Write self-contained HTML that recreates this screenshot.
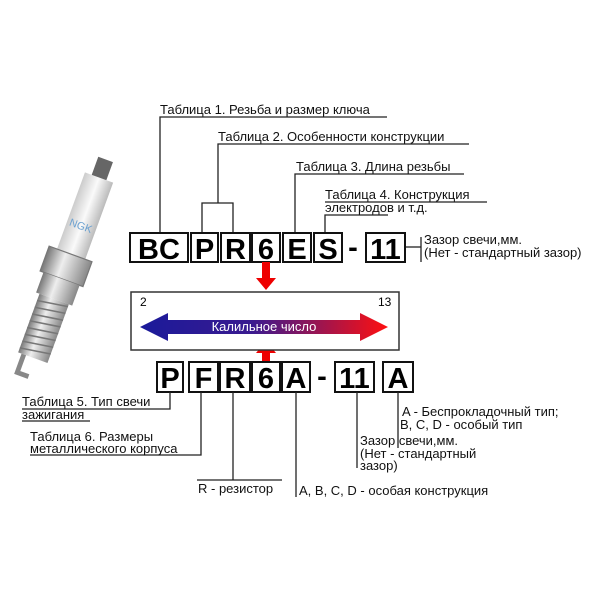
<!DOCTYPE html>
<html><head><meta charset="utf-8"><style>
body{margin:0;background:#fff}
svg text{font-family:"Liberation Sans",sans-serif}
</style></head><body>
<svg width="604" height="604" xmlns="http://www.w3.org/2000/svg">
<defs>
<linearGradient id="g" x1="0" x2="1"><stop offset="0" stop-color="#1a1a9a"/><stop offset="0.45" stop-color="#3a1a90"/><stop offset="1" stop-color="#ff1010"/></linearGradient>
<linearGradient id="metal" x1="0" x2="1"><stop offset="0" stop-color="#777"/><stop offset="0.4" stop-color="#eee"/><stop offset="1" stop-color="#888"/></linearGradient>
<linearGradient id="cer" x1="0" x2="1"><stop offset="0" stop-color="#ccc"/><stop offset="0.5" stop-color="#fafafa"/><stop offset="1" stop-color="#bbb"/></linearGradient>
</defs>
<!-- spark plug -->
<g transform="translate(64,272) rotate(20) scale(1.2)">
<rect x="-6" y="-100" width="13" height="18" fill="#666"/>
<rect x="-12" y="-84" width="25" height="70" fill="url(#cer)"/>
<text x="0" y="-38" font-size="9" fill="#6aa0d0" text-anchor="middle">NGK</text>
<rect x="-19" y="-16" width="38" height="22" fill="url(#metal)" stroke="#777"/>
<rect x="-16" y="6" width="32" height="18" fill="url(#metal)"/>
<rect x="-13" y="24" width="26" height="52" fill="url(#metal)"/>
<g stroke="#777" stroke-width="1.3">
<line x1="-13" y1="30" x2="13" y2="26"/><line x1="-13" y1="36" x2="13" y2="32"/><line x1="-13" y1="42" x2="13" y2="38"/><line x1="-13" y1="48" x2="13" y2="44"/><line x1="-13" y1="54" x2="13" y2="50"/><line x1="-13" y1="60" x2="13" y2="56"/><line x1="-13" y1="66" x2="13" y2="62"/><line x1="-13" y1="72" x2="13" y2="68"/></g>
<path d="M-8 76 L-8 92 L2 92" stroke="#888" stroke-width="4" fill="none"/>
</g>
<g font-size="13" fill="#111">
<text x="160" y="114">Таблица 1. Резьба и размер ключа</text>
<text x="218" y="141">Таблица 2. Особенности конструкции</text>
<text x="296" y="171">Таблица 3. Длина резьбы</text>
<text x="325" y="199">Таблица 4. Конструкция</text>
<text x="325" y="212">электродов и т.д.</text>
<text x="424" y="244">Зазор свечи,мм.</text>
<text x="424" y="257">(Нет - стандартный зазор)</text>
</g>
<g stroke="#222" stroke-width="1.3" fill="none">
<path d="M160 233 V117 H387"/>
<path d="M218 203 V144 H469"/>
<path d="M202 233 V203 H233 V233"/>
<path d="M295 233 V174 H464"/>
<path d="M325 233 V215 H388"/>
<line x1="325" y1="202" x2="487" y2="202"/>
<path d="M405 247 H421"/><line x1="421" y1="237" x2="421" y2="262"/>
</g>
<!-- top boxes -->
<g stroke="#111" stroke-width="2" fill="#fff">
<rect x="130" y="233" width="58" height="29"/><rect x="191" y="233" width="27" height="29"/><rect x="221" y="233" width="29" height="29"/><rect x="252" y="233" width="28" height="29"/><rect x="283" y="233" width="28" height="29"/><rect x="314" y="233" width="28" height="29"/><rect x="366" y="233" width="39" height="29"/>
</g>
<g font-size="29" font-weight="bold" text-anchor="middle" fill="#000">
<text x="159" y="259">BC</text><text x="204.5" y="259">P</text><text x="235.5" y="259">R</text><text x="266" y="259">6</text><text x="297" y="259">E</text><text x="328" y="259">S</text><text x="353" y="257">-</text><text x="385.5" y="259">11</text>
</g>
<!-- red arrows -->
<rect x="262" y="262" width="8" height="18" fill="#e00"/><polygon points="256,278 276,278 266,290" fill="#e00"/>
<rect x="262" y="350" width="8" height="12" fill="#e00"/><polygon points="256,353 276,353 266,341" fill="#e00"/>
<!-- heat box -->
<rect x="131" y="292" width="268" height="58" fill="#fff" stroke="#333" stroke-width="1.5"/>
<text x="140" y="306" font-size="12">2</text><text x="378" y="306" font-size="12">13</text>
<polygon points="140,327 168,313 168,320 360,320 360,313 388,327 360,341 360,334 168,334 168,341" fill="url(#g)"/>
<text x="264" y="331" font-size="13" fill="#fff" text-anchor="middle">Калильное число</text>
<!-- bottom boxes -->
<g stroke="#111" stroke-width="2" fill="#fff">
<rect x="157" y="362" width="26" height="30"/><rect x="189" y="362" width="29" height="30"/><rect x="220" y="362" width="30" height="30"/><rect x="252" y="362" width="28" height="30"/><rect x="282" y="362" width="28" height="30"/><rect x="335" y="362" width="39" height="30"/><rect x="383" y="362" width="30" height="30"/>
</g>
<g font-size="29" font-weight="bold" text-anchor="middle" fill="#000">
<text x="170" y="388">P</text><text x="203.5" y="388">F</text><text x="235" y="388">R</text><text x="266" y="388">6</text><text x="296" y="388">A</text><text x="322" y="386">-</text><text x="354.5" y="388">11</text><text x="398" y="388">A</text>
</g>
<g stroke="#222" stroke-width="1.3" fill="none">
<path d="M170 392 V409 H22"/>
<path d="M201 392 V455 H30"/>
<line x1="233" y1="392" x2="233" y2="480"/><line x1="197" y1="480" x2="282" y2="480"/>
<line x1="296" y1="392" x2="296" y2="497"/>
<line x1="357" y1="392" x2="357" y2="468"/>
<line x1="398" y1="392" x2="398" y2="448"/>
<line x1="22" y1="421" x2="90" y2="421"/>
</g>
<g font-size="13" fill="#111">
<text x="22" y="406">Таблица 5. Тип свечи</text>
<text x="22" y="419">зажигания</text>
<text x="30" y="441">Таблица 6. Размеры</text>
<text x="30" y="453">металлического корпуса</text>
<text x="198" y="493">R - резистор</text>
<text x="299" y="495">A, B, C, D - особая конструкция</text>
<text x="360" y="445">Зазор свечи,мм.</text>
<text x="360" y="458">(Нет - стандартный</text>
<text x="360" y="470">зазор)</text>
<text x="402" y="416">A - Беспрокладочный тип;</text>
<text x="400" y="429">B, C, D - особый тип</text>
</g>
</svg>
</body></html>
